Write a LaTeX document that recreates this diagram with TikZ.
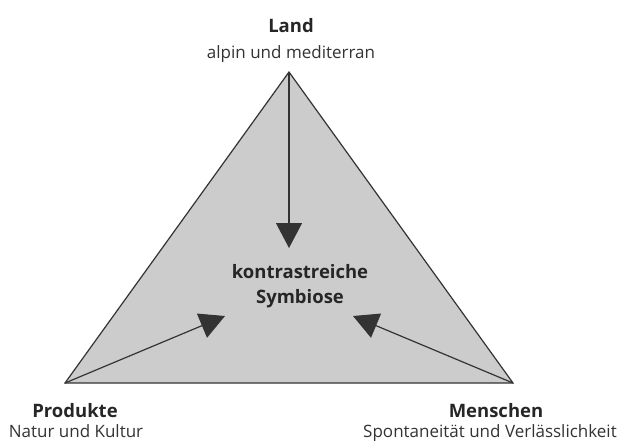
\documentclass[tikz,border=0pt]{standalone}
\usepackage{fontspec}
\setmainfont{Open Sans}
\usetikzlibrary{arrows.meta}
\begin{document}
\begin{tikzpicture}[x=1pt,y=-1pt,
  title/.style={font=\bfseries\fontsize{18.5}{20}\selectfont, text=black!85, anchor=base, inner sep=0pt},
  sub/.style={font=\fontsize{17}{19}\selectfont, text=black!80, anchor=base, inner sep=0pt},
  conn/.style={draw=black!80, line width=1.2pt, -{Triangle[length=25pt,width=26pt]}}]
\useasboundingbox (0,0) rectangle (628,440);
\coordinate (A) at (289,72);
\coordinate (B) at (65,383);
\coordinate (C) at (513,383);
\filldraw[fill=black!20, draw=black!80, line width=1.2pt, line join=miter] (A) -- (B) -- (C) -- cycle;
\coordinate (tA) at (289,248);
\coordinate (tB) at (225,316);
\coordinate (tC) at (353,316);
\draw[conn] (A) -- (tA);
\draw[conn] (B) -- (tB);
\draw[conn] (C) -- (tC);
\node[title] (center1) at (300,278) {kontrastreiche};
\node[title] (center2) at (300,303) {Symbiose};
\node[title] (land) at (291,32) {Land};
\node[sub] (landsub) at (291,58) {alpin und mediterran};
\node[title] (prod) at (75,417) {Produkte};
\node[sub] (prodsub) at (76,437) {Natur und Kultur};
\node[title] (mensch) at (496,417) {Menschen};
\node[sub] (menschsub) at (490,437) {Spontaneität und Verlässlichkeit};
\end{tikzpicture}
\end{document}
